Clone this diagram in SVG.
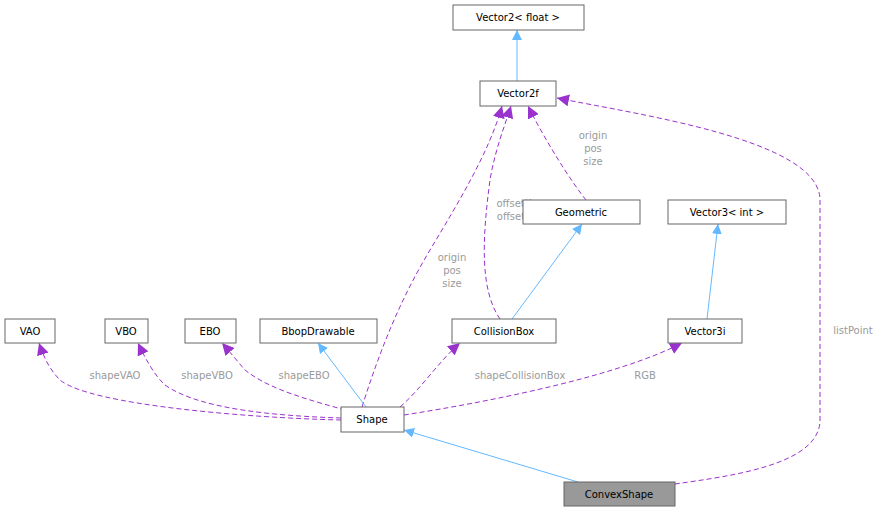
<svg xmlns="http://www.w3.org/2000/svg" width="886" height="512" viewBox="0 0 886 512">
<style>
.n rect{fill:#fff;stroke:#666;stroke-width:1}
text{font-family:"DejaVu Sans",sans-serif;font-size:10px;text-anchor:middle}
.l{fill:#9a9a9a}
.b{fill:none;stroke:#63b8ff;stroke-width:1}
.d{fill:none;stroke:#9a32cd;stroke-width:1;stroke-dasharray:5,3}
</style>
<defs>
<marker id="ab" viewBox="0 0 10 10" refX="10" refY="5" markerWidth="10" markerHeight="10" orient="auto" markerUnits="userSpaceOnUse"><path d="M0,0L10,5L0,10z" fill="#63b8ff"/></marker>
<marker id="ap" viewBox="0 0 10 10" refX="10" refY="5" markerWidth="12" markerHeight="12" orient="auto" markerUnits="userSpaceOnUse"><path d="M0,0L10,5L0,10z" fill="#9a32cd"/></marker>
</defs>
<g id="edges">
<path class="b" d="M517,81L517,30" marker-end="url(#ab)"/>
<path class="d" d="M586,200C570,180 545,140 528,106" marker-end="url(#ap)"/>
<path class="d" d="M500,319C480,290 482,240 490,180C495,150 505,125 511,106" marker-end="url(#ap)"/>
<path class="d" d="M362,407C380,350 400,300 430,250C460,200 490,150 502,106" marker-end="url(#ap)"/>
<path class="b" d="M512,319L582,224" marker-end="url(#ab)"/>
<path class="b" d="M707,319L718,224" marker-end="url(#ab)"/>
<path class="d" d="M341,420C250,418 90,405 60,380C50,370 44,358 39,343" marker-end="url(#ap)"/>
<path class="d" d="M341,418C280,416 200,410 165,385C155,376 146,360 138,343" marker-end="url(#ap)"/>
<path class="d" d="M345,410C310,400 270,390 245,370C238,362 230,352 222,343" marker-end="url(#ap)"/>
<path class="b" d="M366,407L318,343" marker-end="url(#ab)"/>
<path class="d" d="M400,407C420,390 440,360 460,343" marker-end="url(#ap)"/>
<path class="d" d="M404,415C500,400 620,375 682,343" marker-end="url(#ap)"/>
<path class="b" d="M578,482L404,430" marker-end="url(#ab)"/>
<path class="d" d="M675,484C730,476 820,465 820,420L820,200C820,140 640,115 557,98" marker-end="url(#ap)"/>
</g>
<g class="l">
<text x="593" y="139">origin</text><text x="593" y="152">pos</text><text x="593" y="165">size</text>
<text x="514" y="207">offsetX</text><text x="514" y="220">offsetY</text>
<text x="452" y="261">origin</text><text x="452" y="274">pos</text><text x="452" y="287">size</text>
<text x="115" y="379">shapeVAO</text>
<text x="207" y="379">shapeVBO</text>
<text x="304" y="379">shapeEBO</text>
<text x="520" y="379">shapeCollisionBox</text>
<text x="645" y="379">RGB</text>
<text x="853" y="334">listPoint</text>
</g>
<g id="n1" class="n"><rect x="453" y="5" width="131" height="25"/><text x="518" y="21">Vector2&lt; float &gt;</text></g>
<g id="n2" class="n"><rect x="480" y="81" width="76" height="25"/><text x="518" y="97">Vector2f</text></g>
<g id="n3" class="n"><rect x="523" y="200" width="117" height="24"/><text x="581" y="216">Geometric</text></g>
<g id="n4" class="n"><rect x="668" y="200" width="118" height="24"/><text x="727" y="216">Vector3&lt; int &gt;</text></g>
<g id="n5" class="n"><rect x="5" y="319" width="50" height="24"/><text x="30" y="335">VAO</text></g>
<g id="n6" class="n"><rect x="105" y="319" width="43" height="24"/><text x="126" y="335">VBO</text></g>
<g id="n7" class="n"><rect x="185" y="319" width="51" height="24"/><text x="210" y="335">EBO</text></g>
<g id="n8" class="n"><rect x="260" y="319" width="117" height="24"/><text x="318" y="335">BbopDrawable</text></g>
<g id="n9" class="n"><rect x="452" y="319" width="104" height="24"/><text x="504" y="335">CollisionBox</text></g>
<g id="n10" class="n"><rect x="668" y="319" width="74" height="24"/><text x="705" y="335">Vector3i</text></g>
<g id="n11" class="n"><rect x="341" y="407" width="63" height="25"/><text x="372" y="423">Shape</text></g>
<g id="n12" class="n"><rect x="564" y="482" width="111" height="24" style="fill:#999"/><text x="619" y="498">ConvexShape</text></g>
</svg>
